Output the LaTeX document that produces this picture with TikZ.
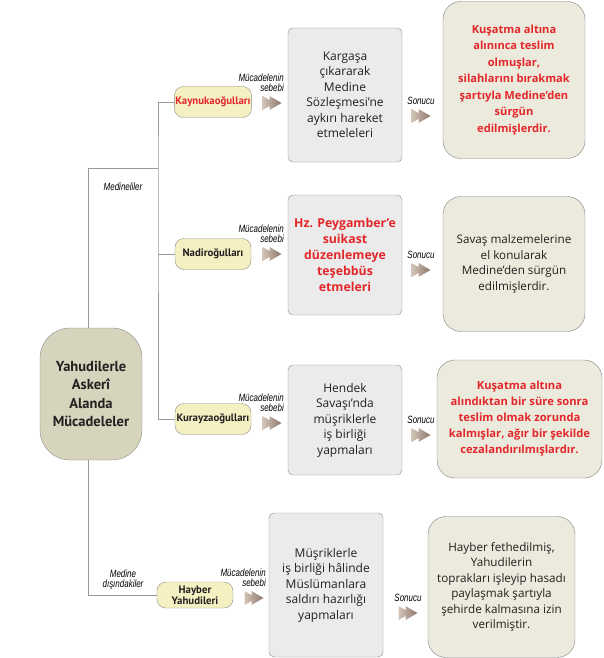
\documentclass[tikz,border=0pt]{standalone}
\usepackage{fontspec}
\setmainfont{Open Sans}
\newfontfamily\dar[FakeStretch=0.76]{Liberation Sans}
\newfontfamily\baslik{PT Sans}
\usetikzlibrary{positioning}

\definecolor{anarenk}{HTML}{D6D4BC}
\definecolor{sari}{HTML}{F5F0C2}
\definecolor{gri}{HTML}{EBEBEB}
\definecolor{bej}{HTML}{ECEADC}
\definecolor{kirmizi}{HTML}{E3262A}
\definecolor{yazi}{HTML}{231F20}
\definecolor{okacik}{HTML}{D2C4B8}
\definecolor{okkoyu}{HTML}{8E766A}

% double arrow head
\newcommand{\ok}[1]{%
  \shade[shift={(#1)}, left color=okacik, right color=okkoyu]
    (-9.5,-7) -- (2.5,0) -- (-9.5,7) -- cycle
    (-2.5,-7) -- (9.5,0) -- (-2.5,7) -- cycle;}

\begin{document}
\begin{tikzpicture}[x=1pt, y=-1pt,
    ana/.style={rectangle, draw=black!45, fill=anarenk, rounded corners=30pt, minimum width=102pt, minimum height=132pt, align=center, font=\baslik\bfseries\fontsize{14.5}{18.3}\selectfont, text=yazi},
    kavim/.style={rectangle, draw=black!45, fill=sari, rounded corners=9pt, minimum width=76pt, minimum height=31pt, inner sep=1pt, align=center, font=\baslik\bfseries\fontsize{10.8}{12}\selectfont, text=yazi},
    sebep/.style={rectangle, draw=black!45, fill=gri, rounded corners=5pt, minimum width=114pt, align=center, font=\fontsize{12}{15.5}\selectfont, text=yazi},
    sonuc/.style={rectangle, draw=black!50, fill=bej, rounded corners=18pt, align=center, font=\fontsize{11.7}{15.5}\selectfont, text=yazi},
    vurgu/.style={text=kirmizi, font=\bfseries\fontsize{11.1}{16.5}\selectfont},
    etiket/.style={inner sep=0pt, align=right, font=\dar\itshape\fontsize{10.5}{10}\selectfont},
    dal/.style={draw=black!40, line width=0.9pt}]

    \useasboundingbox (0,0) rectangle (604,658);

    % Nodes
    \node[ana] (ana) at (91,394) {Yahudilerle\\Askerî\\Alanda\\Mücadeleler};

    \node[kavim] (kay) at (213,102) {\textcolor{kirmizi}{Kaynukaoğulları}};
    \node[kavim] (nad) at (213,254) {Nadiroğulları};
    \node[kavim] (kur) at (213,419) {Kurayzaoğulları};
    \node[kavim, minimum height=26pt, font=\baslik\bfseries\fontsize{10.8}{11}\selectfont] (hay) at (195,595) {Hayber\\Yahudileri};

    \node[sebep, minimum height=134pt] (sebep1) at (345,95) {Kargaşa\\çıkararak\\Medine\\Sözleşmesi’ne\\aykırı hareket\\etmeleleri};
    \node[sebep, minimum height=120pt, vurgu, font=\bfseries\fontsize{12.3}{16}\selectfont] (sebep2) at (345,255) {Hz. Peygamber’e\\suikast\\düzenlemeye\\teşebbüs\\etmeleri};
    \node[sebep, minimum height=110pt] (sebep3) at (345,420) {Hendek\\Savaşı’nda\\müşriklerle\\iş birliği\\yapmaları};
    \node[sebep, minimum height=144pt] (sebep4) at (326,585) {Müşriklerle\\iş birliği hâlinde\\Müslümanlara\\saldırı hazırlığı\\yapmaları};

    \node[sonuc, minimum width=142pt, minimum height=157pt, vurgu] (sonuc1) at (514,80) {Kuşatma altına\\alınınca teslim\\olmuşlar,\\silahlarını bırakmak\\şartıyla Medine’den\\sürgün\\edilmişlerdir.};
    \node[sonuc, minimum width=142pt, minimum height=135pt] (sonuc2) at (514,264) {Savaş malzemelerine\\el konularak\\Medine’den sürgün\\edilmişlerdir.};
    \node[sonuc, minimum width=165pt, minimum height=118pt, vurgu, font=\bfseries\fontsize{11.2}{16}\selectfont] (sonuc3) at (519.5,419) {Kuşatma altına\\alındıktan bir süre sonra\\teslim olmak zorunda\\kalmışlar, ağır bir şekilde\\cezalandırılmışlardır.};
    \node[sonuc, minimum width=147pt, minimum height=141pt] (sonuc4) at (501.5,587) {Hayber fethedilmiş,\\Yahudilerin\\toprakları işleyip hasadı\\paylaşmak şartıyla\\şehirde kalmasına izin\\verilmiştir.};

    % Branches
    \coordinate (medine) at (158,168);
    \draw[dal] ([xshift=-3pt]ana.north) |- (medine);
    \draw[dal] (kay.west) -| (medine) |- (kur.west);
    \draw[dal] (nad.west) -- (nad.west -| medine);
    \draw[dal] ([xshift=-3pt]ana.south) |- (hay.west);

    \node[etiket, align=center] (medineli) at (123,187) {Medineliler};
    \node[etiket, align=center] (disari) at (123,580) {Medine\\dışındakiler};

    % Arrows
    \foreach \y/\n in {103/1, 254/2, 423/3} {
      \ok{272,\y}
      \node[etiket, anchor=south east] (neden\n) at (284,\y-11) {Mücadelenin\\sebebi};
    }
    \ok{254,598}
    \node[etiket, anchor=south east] (neden4) at (266,587) {Mücadelenin\\sebebi};

    \foreach \y/\n in {116/1, 270/2, 435/3, 613/4} {
      \pgfmathsetmacro{\okx}{\n==4 ? 408 : 421}
      \ok{\okx,\y}
      \node[etiket] (sonucu\n) at (\okx,\y-15) {Sonucu};
    }
\end{tikzpicture}
\end{document}
